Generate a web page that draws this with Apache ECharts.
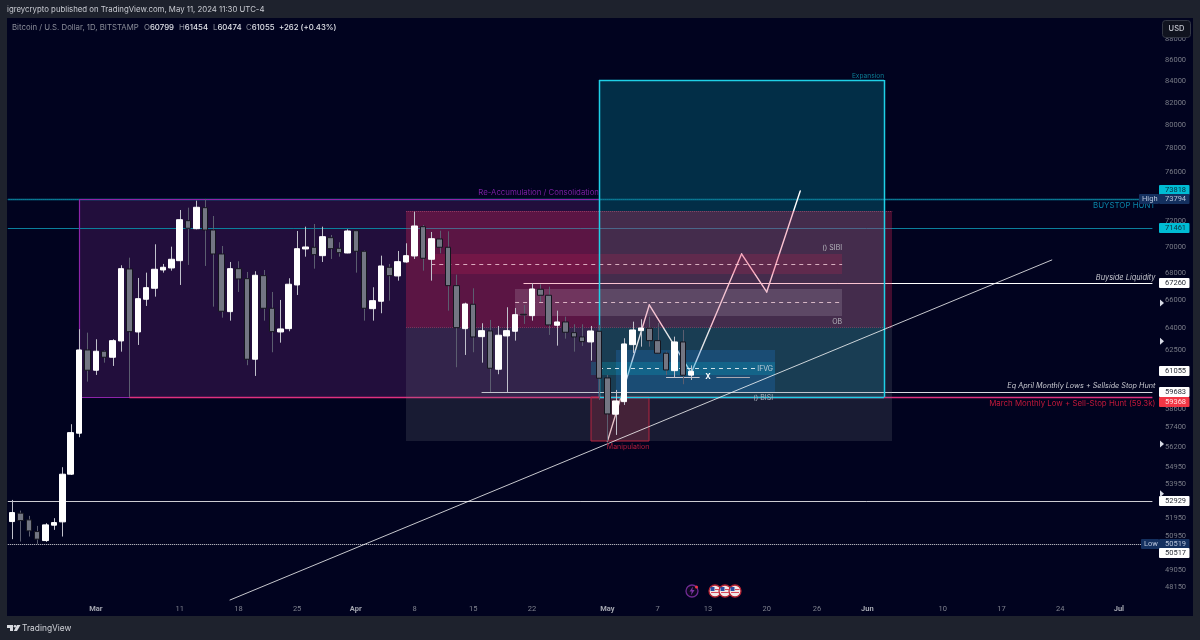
<!DOCTYPE html>
<html>
<head>
<meta charset="utf-8">
<style>html,body{margin:0;padding:0;background:#1e222d}#c{width:1200px;height:640px}</style>
<script src="https://cdn.jsdelivr.net/npm/echarts@6/dist/echarts.min.js"></script>
</head>
<body>
<div id="c"></div>
<script>
// ---------- data ----------
const firstDay = '2024-02-20';
const dayCount = 138;
// [open, close, low, high] from Feb 20 to May 11, 2024
const ohlc = [
[51759,52273,50767,53007],[52239,51815,50634,52388],[51855,51232,50913,52084],[51193,50767,50506,51515],
[50689,51571,50617,51668],[51553,51702,51288,51952],[51742,54526,50913,54947],[54526,57076,54480,57606],
[57039,62506,56789,63944],[62506,61127,60367,63707],[61127,62417,60813,63246],[62417,62007,61640,62472],
[62007,63149,61417,63246],[63128,68349,62390,68605],[68326,63776,59360,69180],[63755,66132,62851,67654],
[66088,66937,65604,68050],[66892,68304,66278,70206],[68251,68455,68050,68703],[68402,69058,68199,70021],
[68952,72130,67136,72903],[72051,71452,68628,73088],[71420,73121,71373,73653],[73088,71318,68553,73794],
[71318,69462,65553,72425],[69462,65222,64765,70075],[65194,68349,64552,68854],[68349,67580,66621,68907],
[67602,61871,61465,68102],[61871,67856,60746,68154],[67826,65438,64552,68251],[65438,63776,62349,66621],
[63755,63966,63010,66037],[63987,67188,63804,67632],[67136,69867,66402,71240],[69844,69998,69256,71578],
[69975,69409,68349,71791],[69333,70795,68854,71578],[70717,69867,69081,70928],[69898,69561,69256,70361],
[69538,71240,69515,71373],[71263,69668,68050,71300],[69668,65438,64552,69720],[65409,65986,64552,66966],
[65943,68553,65079,69333],[68455,67826,65986,68703],[67804,68877,67453,69691],[68854,69333,68801,70284],
[69310,71633,69081,72768],[71578,69135,68199,71712],[69058,70639,67453,71162],[70616,69975,69515,71263],
[69975,67085,65265,71217],[67085,64057,61330,67900],[63987,65748,62164,65842],[65726,63406,62349,66892],
[63427,63846,61640,64368],[63825,61262,59683,64601],[61194,63525,60860,64177],[63476,63846,59683,65510],
[63804,64979,63149,65459],[65005,64960,64319,65676],[64908,66841,64552,67260],[66819,66380,65893,67188],
[66380,64248,63546,67010],[64226,64460,62803,65265],[64460,63734,63288,64837],[63707,63406,62390,64297],
[63406,63080,62782,64297],[63059,63825,61776,64177],[63804,60592,59164,64248],[60612,58261,56515,60813],
[58243,59099,56932,59818],[59053,62920,58840,63316],[62872,63895,62301,64481],[63846,64036,62734,64650],
[64015,63149,62734,64837],[63149,62281,62233,64389],[62281,61147,60813,62390],[61100,63059,60633,63427],
[63059,60793,60195,63895],[60799,61055,60474,61454]
];
const priceTicks = [88000,86000,84000,82000,80000,78000,76000,72000,70000,68000,66000,64000,62500,58600,57400,56200,54950,53950,51950,50950,49050,48150];
const priceMin = 47483, priceMax = 90035;
const timeTicks = {'03-01':'Mar','03-11':'11','03-18':'18','03-25':'25','04-01':'Apr','04-08':'8','04-15':'15','04-22':'22','05-01':'May','05-07':'7','05-13':'13','05-20':'20','05-26':'26','06-01':'Jun','06-10':'10','06-17':'17','06-24':'24','07-01':'Jul'};

// [first day, top price, last day, bottom price]
const zoneAccumulation = ['02-28',73750,'04-30',59360];
const zoneExpansion = ['04-30',84102,'06-03',59360];
const zoneOrderBlock = ['04-07',72823,'06-04',64107];
const zoneLower = ['04-07',64107,'06-04',56558];
const zoneSibi = ['04-10',69462,'05-29',67953];
const zoneOb = ['04-20',66863,'05-29',64908];
const zoneBisi = ['05-02',62506,'05-21',59707];
const zoneIfvg = ['04-29',61687,'05-21',60813];
const zoneManipulation = ['04-29',59360,'05-06',56558];
// [first day or null for the pane edge, price, last day]
const levelHighBox = [null,73818,'07-05'];
const levelHigh = [null,73794,'07-05'];
const levelBuystop = [null,71461,'07-05'];
const levelBuyside = ['04-21',67260,'07-05'];
const levelEqLows = ['04-16',59683,'07-05'];
const levelMarchLow = ['03-05',59368,'07-05'];
const levelMid = [null,52929,'07-05'];
const levelLow = [null,50517,'07-05'];
const midSibi = ['04-10',68711,'05-29'];
const midOb = ['04-20',65871,'05-29'];
const midIfvg = ['04-30',61248,'05-19'];
const xLeft = ['05-08',60659,'05-12'];
const xRight = ['05-14',60659,'05-18'];
const trendLine = [['03-17',47483],['06-23',69005]];
const projection = [['05-01',56515],['05-06',65676],['05-11',60947],['05-17',69462],['05-20',66621],['05-24',74443]];
// [day, price, text]
const noteAccum = ['04-30',74279,'Re-Accumulation / Consolidation'];
const noteExpansion = ['06-03',84473,'Expansion'];
const noteBuystop = ['07-05',73266,'BUYSTOP HUNT'];
const noteBuyside = ['07-05',67654,'Buyside Liquidity'];
const noteEq = ['07-05',60063,'Eq April Monthly Lows + Sellside Stop Hunt'];
const noteMarch = ['07-05',58924,'March Monthly Low + Sell-Stop Hunt (59.3k)'];
const noteSibi = ['05-29',69920,'() SIBI'];
const noteOb = ['05-29',64481,'OB'];
const noteIfvg = ['05-21',61250,'IFVG'];
const noteBisi = ['05-21',59300,'() BISI'];
const noteManip = ['05-06',56200,'Manipulation'];
const noteX = ['05-13',60659,'X'];
// price scale badges
const badgeValues = {b73818:73818,b73794:73794,b71461:71461,b67260:67260,b61055:61055,b59683:59683,b59368:59368,b52929:52929,b50519:50519,b50517:50517};
const flagPrices = [65815,63100,56370,53360];
const legendOhlc = ['60799','61454','60474','61055'];

// ---------- helpers ----------
const dates = [];
{ const d = new Date(firstDay+'T00:00:00Z');
  for (let i=0;i<dayCount;i++){ dates.push(d.toISOString().slice(5,10)); d.setUTCDate(d.getUTCDate()+1); } }
const ix = s => s===null ? null : dates.indexOf(s);
const bg = '#01031f', chrome = '#1e222d';
const fontMain = 'Inter, Roboto, sans-serif';
const fontAxis = 'Roboto, sans-serif';

function zoneSeries(name, z, list){
  return {
    type:'custom', name, z, silent:true, coordinateSystem:'cartesian2d', clip:false,
    data:list.map(e=>[ix(e.zone[0]),e.zone[1],ix(e.zone[2]),e.zone[3]]),
    encode:{x:0,y:1},
    renderItem(p,api){
      const s = list[p.dataIndex];
      const a = api.coord([api.value(0),api.value(1)]);
      const b = api.coord([api.value(2),api.value(3)]);
      return {type:'rect',shape:{x:Math.round(a[0]),y:Math.round(a[1]),width:Math.round(b[0])-Math.round(a[0]),height:Math.round(b[1])-Math.round(a[1])},
        style:{fill:s.fill,stroke:s.stroke||null,lineWidth:s.lw||0}};
    }
  };
}
function lineSeries(name, z, list){
  return {
    type:'custom', name, z, silent:true, coordinateSystem:'cartesian2d', clip:false,
    data:list.map(e=>[e.level[0]===null?0:ix(e.level[0]),e.level[1],ix(e.level[2])]),
    encode:{x:0,y:1},
    renderItem(p,api){
      const s = list[p.dataIndex];
      const a = api.coord([api.value(0),api.value(1)]);
      const b = api.coord([api.value(2),api.value(1)]);
      const x0 = s.level[0]===null ? p.coordSys.x : a[0];
      const y = Math.round(a[1])+0.5;
      return {type:'line',shape:{x1:x0,y1:y,x2:b[0],y2:y},
        style:{stroke:s.color,lineWidth:s.lw||1,lineDash:s.dash||null}};
    }
  };
}
function polySeries(name, z, points, color, lw){
  return {
    type:'custom', name, z, silent:true, coordinateSystem:'cartesian2d', clip:false,
    data:points.map(e=>[ix(e[0]),e[1]]), encode:{x:0,y:1},
    renderItem(p,api){
      if (p.dataIndex+1 >= points.length) return null;
      const a = api.coord([api.value(0),api.value(1)]);
      const n = points[p.dataIndex+1];
      const b = api.coord([ix(n[0]),n[1]]);
      return {type:'line',shape:{x1:a[0],y1:a[1],x2:b[0],y2:b[1]},style:{stroke:color,lineWidth:lw,lineCap:'round'}};
    }
  };
}
function noteSeries(list){
  return {
    type:'custom', name:'notes', z:8, silent:true, coordinateSystem:'cartesian2d', clip:false,
    data:list.map(e=>[ix(e.note[0]),e.note[1]]), encode:{x:0,y:1},
    renderItem(p,api){
      const s = list[p.dataIndex];
      const a = api.coord([api.value(0),api.value(1)]);
      return {type:'text',x:a[0]+(s.dx||0),y:a[1],style:{text:s.note[2],fill:s.color,font:(s.italic?'italic ':'')+(s.weight||'')+' '+s.size+'px '+fontMain,textAlign:s.align||'right',textVerticalAlign:'middle'}};
    }
  };
}
function badgeSeries(list){
  return {
    type:'custom', name:'badges', z:9, silent:true, coordinateSystem:'cartesian2d', clip:false,
    data:list.map(e=>[81,e.price]), encode:{y:1},
    renderItem(p,api){
      const s = list[p.dataIndex];
      const yv = api.coord([0,api.value(1)])[1]+(s.dy||0);
      const cy = Math.round(yv);
      const kids = [
        {type:'rect',shape:{x:1159,y:cy-5,width:30.5,height:10,r:1},style:{fill:s.fill}},
        {type:'text',x:1165,y:cy,style:{text:String(s.price),fill:s.text,font:'7.5px '+fontAxis,textVerticalAlign:'middle'}}
      ];
      if (s.pill){
        kids.push({type:'rect',shape:{x:s.pillX,y:cy-5,width:1159-s.pillX,height:10,r:1},style:{fill:s.fill}});
        kids.push({type:'text',x:s.pillX+3,y:cy,style:{text:s.pill,fill:s.text,font:'7.5px '+fontAxis,textVerticalAlign:'middle'}});
      }
      return {type:'group',children:kids};
    }
  };
}
const white='#ffffff', cyan='#00bcd4', navy='#14305f', red='#f23645';
const badges = [
  {price:badgeValues.b73818,fill:cyan,text:'#083040',dy:-9},
  {price:badgeValues.b73794,fill:navy,text:'#b8c4da',pill:'High',pillX:1139},
  {price:badgeValues.b71461,fill:cyan,text:'#083040'},
  {price:badgeValues.b67260,fill:white,text:'#2a2e39'},
  {price:badgeValues.b61055,fill:white,text:'#2a2e39'},
  {price:badgeValues.b59683,fill:white,text:'#2a2e39',dy:0},
  {price:badgeValues.b59368,fill:red,text:'#ffe0e0',dy:5},
  {price:badgeValues.b52929,fill:white,text:'#2a2e39'},
  {price:badgeValues.b50519,fill:navy,text:'#b8c4da',pill:'Low',pillX:1141},
  {price:badgeValues.b50517,fill:white,text:'#2a2e39',dy:9.5}
];
const tealLine='#0b7f9c';
const purpleEdge='#8e24aa';
const cyanEdge='#1fd0e6';
const candleBodies = ohlc.map(r=>[r[0],r[1],Math.min(r[0],r[1]),Math.max(r[0],r[1])]);

const legendItems = [
  [144,'O',legendOhlc[0]],[179,'H',legendOhlc[1]],[213,'L',legendOhlc[2]],[246,'C',legendOhlc[3]]
];

const option = {
  animation:false,
  backgroundColor:chrome,
  grid:{left:7.8,top:18,width:1157.2,height:582,containLabel:false},
  xAxis:{type:'category',data:dates,boundaryGap:true,
    axisLine:{show:false},axisTick:{show:false},splitLine:{show:false},
    axisLabel:{color:'#7f828d',fontSize:7.5,fontFamily:fontAxis,margin:5,hideOverlap:false,
      interval:(i,v)=>timeTicks[v]!==undefined,
      formatter:v=>{const t=timeTicks[v]; if(!t) return ''; return /^[A-Z]/.test(t)?'{m|'+t+'}':t;},
      rich:{m:{color:'#a3a6af',fontSize:7.5,fontWeight:'bold',fontFamily:fontAxis}}}},
  yAxis:{type:'log',logBase:10,position:'right',min:priceMin,max:priceMax,
    axisLine:{show:false},axisTick:{show:false},splitLine:{show:false},
    axisLabel:{customValues:priceTicks,color:'#787b86',fontSize:7.5,fontFamily:fontAxis,margin:0,align:'left',formatter:v=>String(Math.round(v))}},
  series:[
    zoneSeries('base zones',1,[
      {zone:zoneAccumulation,fill:'rgba(170,60,180,0.2)',stroke:null},
      {zone:zoneExpansion,fill:'rgba(10,205,220,0.215)',stroke:null}]),
    lineSeries('levels',2,[
      {level:levelHighBox,color:tealLine,lw:1.5},
      {level:levelHigh,color:'#0a6a84',dash:[1,1]},
      {level:levelBuystop,color:tealLine},
      {level:[zoneAccumulation[0],zoneAccumulation[1],zoneAccumulation[2]],color:purpleEdge,lw:1.2},
      {level:[zoneAccumulation[0],zoneAccumulation[3],zoneAccumulation[2]],color:purpleEdge,lw:1.2},
      {level:levelBuyside,color:'#ffffff'},
      {level:levelMarchLow,color:'#e0307f',lw:1.5},
      {level:levelEqLows,color:'#d8d8e0'},
      {level:levelMid,color:'rgba(255,255,255,0.8)'},
      {level:levelLow,color:'rgba(255,255,255,0.85)',dash:[1,1]}]),
    polySeries('projection',2,projection,'#ffffff',1.4),
    zoneSeries('upper zones',3,[
      {zone:zoneOrderBlock,fill:'rgba(240,40,90,0.28)'},
      {zone:zoneLower,fill:'rgba(120,123,134,0.2)'},
      {zone:zoneSibi,fill:'rgba(240,40,90,0.16)'},
      {zone:zoneOb,fill:'rgba(210,200,215,0.18)'},
      {zone:zoneBisi,fill:'rgba(33,130,235,0.22)'},
      {zone:zoneIfvg,fill:'rgba(0,188,212,0.22)'},
      {zone:zoneManipulation,fill:'rgba(244,67,80,0.2)',stroke:'#b5243f',lw:1}]),
    lineSeries('zone edges',3,[
      {level:[zoneOrderBlock[0],zoneOrderBlock[1],zoneOrderBlock[2]],color:'rgba(255,130,160,0.35)',dash:[1,1]},
      {level:[zoneOrderBlock[0],zoneOrderBlock[3],zoneOrderBlock[2]],color:'rgba(255,60,110,0.45)',dash:[1,1]},
      {level:midSibi,color:'rgba(255,220,230,0.75)',dash:[4,4]},
      {level:midOb,color:'rgba(255,220,230,0.75)',dash:[4,4]},
      {level:midIfvg,color:'rgba(255,255,255,0.8)',dash:[4,4]},
      {level:xLeft,color:'#c8c8d0'},
      {level:xRight,color:'#a8a8b0'}]),
    {type:'custom',name:'vertical edges',z:3,silent:true,coordinateSystem:'cartesian2d',clip:false,
     data:[[ix(zoneAccumulation[0]),zoneAccumulation[1],zoneAccumulation[3],0],
           [ix(zoneExpansion[0]),zoneExpansion[1],zoneExpansion[3],1],
           [ix(zoneExpansion[2]),zoneExpansion[1],zoneExpansion[3],1]],
     encode:{x:0,y:1},
     renderItem(p,api){
       const a=api.coord([api.value(0),api.value(1)]),b=api.coord([api.value(0),api.value(2)]);
       const c=api.value(3);
       return {type:'line',shape:{x1:Math.round(a[0])+.5,y1:a[1],x2:Math.round(a[0])+.5,y2:b[1]},style:{stroke:c?cyanEdge:purpleEdge,lineWidth:c?1.5:1.2}};
     }},
    {type:'custom',name:'expansion edges',z:3,silent:true,coordinateSystem:'cartesian2d',clip:false,
     data:[[ix(zoneExpansion[0]),zoneExpansion[1],ix(zoneExpansion[2])],[ix(zoneExpansion[0]),zoneExpansion[3],ix(zoneExpansion[2])]],
     encode:{x:0,y:1},
     renderItem(p,api){
       const a=api.coord([api.value(0),api.value(1)]),b=api.coord([api.value(2),api.value(1)]);
       const y=Math.round(a[1])+.5;
       return {type:'line',shape:{x1:a[0],y1:y,x2:b[0],y2:y},style:{stroke:cyanEdge,lineWidth:1.5}};
     }},
    {type:'custom',name:'wicks',z:4,silent:true,coordinateSystem:'cartesian2d',clip:false,
     data:ohlc.map((r,i)=>[i,r[2],r[3],r[1]>=r[0]?1:0]),encode:{x:0,y:1},
     renderItem(p,api){
       const a=api.coord([api.value(0),api.value(1)]),b=api.coord([api.value(0),api.value(2)]);
       const x=Math.round(a[0])+.5;
       return {type:'line',shape:{x1:x,y1:a[1],x2:x,y2:b[1]},style:{stroke:api.value(3)?'#c0c1cb':'#5c5e70',lineWidth:1}};
     }},
    {type:'candlestick',name:'BTCUSD',z:5,silent:true,data:candleBodies,barWidth:6,
     itemStyle:{color:'#ffffff',color0:'#737683',borderColor:'#ffffff',borderColor0:'#15151f',borderColorDoji:'#c8c8d0',borderWidth:1}},
    polySeries('trend',6,trendLine,'rgba(255,255,255,0.78)',1),
    noteSeries([
      {note:noteAccum,color:'#7b1fa2',size:7.8},
      {note:noteExpansion,color:'#0d7f96',size:6.6},
      {note:noteBuystop,color:'#0a85a8',size:7.9,dx:3},
      {note:noteBuyside,color:'#c8c9d0',size:7.4,italic:true,dx:3},
      {note:noteEq,color:'#c8c9d0',size:7.25,italic:true,dx:3},
      {note:noteMarch,color:'#c2193a',size:7.9,dx:3},
      {note:noteSibi,color:'#b5b5bb',size:7},
      {note:noteOb,color:'#b5b5bb',size:7},
      {note:noteIfvg,color:'#c0cdd8',size:7,dx:-2},
      {note:noteBisi,color:'#a9b0bb',size:7,dx:-2},
      {note:noteManip,color:'#b71c3c',size:7},
      {note:noteX,color:'#ffffff',size:7.5,weight:'bold',align:'center'}
    ]),
    badgeSeries(badges),
    {type:'custom',name:'flags',z:9,silent:true,coordinateSystem:'cartesian2d',clip:false,
     data:flagPrices.map(v=>[0,v]),encode:{y:1},
     renderItem(p,api){
       const y=api.coord([0,api.value(1)])[1];
       return {type:'polygon',shape:{points:[[1160,y-3.5],[1164,y],[1160,y+3.5]]},style:{fill:'#d8dbe6'}};
     }}
  ],
  graphic:[
    {type:'rect',z:-1,silent:true,shape:{x:7,y:18,width:1186,height:598},style:{fill:bg}},
    {type:'text',z:100,silent:true,x:7,y:6,style:{text:'igreycrypto published on TradingView.com, May 11, 2024 11:30 UTC-4',fill:'#c9cbd2',font:'7.8px '+fontMain}},
    {type:'text',z:100,silent:true,x:12,y:24,style:{text:'Bitcoin / U.S. Dollar, 1D, BITSTAMP',fill:'#8a8d98',font:'7.8px '+fontMain}},
    ...legendItems.map(it=>({type:'text',z:100,silent:true,x:it[0],y:24,style:{
      text:'{g|'+it[1]+'}{w|'+it[2]+'}',rich:{g:{fill:'#8a8d98',font:'7.8px '+fontMain},w:{fill:'#e0e2e8',font:'500 7.8px '+fontMain}}}})),
    {type:'text',z:100,silent:true,x:279,y:24,style:{text:'+262 (+0.43%)',fill:'#e0e2e8',font:'500 7.8px '+fontMain}},
    {type:'rect',z:100,silent:true,shape:{x:1162.5,y:20.5,width:28,height:17,r:3},style:{fill:'#10131f',stroke:'#343845',lineWidth:1}},
    {type:'text',z:101,silent:true,x:1176.5,y:29,style:{text:'USD',fill:'#c4c6ce',font:'500 7.5px '+fontMain,textAlign:'center',textVerticalAlign:'middle'}},
    {type:'circle',z:100,silent:true,shape:{cx:692,cy:591,r:6},style:{fill:'#0d0820',stroke:'#6f2a92',lineWidth:1.3}},
    {type:'polygon',z:101,silent:true,shape:{points:[[693,586.5],[689.5,591.5],[691.8,591.5],[690.8,595.5],[694.6,590],[692.3,590]]},style:{fill:'#7d35a5'}},
    {type:'circle',z:102,silent:true,shape:{cx:696.5,cy:587,r:1.5},style:{fill:'#f23645'}},
    ...[715,725,735].flatMap(cx=>[
      {type:'circle',z:100,silent:true,shape:{cx,cy:591,r:6},style:{fill:'#f0e8e8',stroke:'#b52232',lineWidth:1.3}},
      {type:'rect',z:101,silent:true,shape:{x:cx-4.5,y:587,width:4,height:4},style:{fill:'#2b4a9e'}},
      {type:'rect',z:101,silent:true,shape:{x:cx-4,y:592,width:8,height:1},style:{fill:'#d8485a'}},
      {type:'rect',z:101,silent:true,shape:{x:cx,y:589,width:4.5,height:1},style:{fill:'#d8485a'}}
    ]),
    {type:'polygon',z:100,silent:true,shape:{points:[[7,625],[13,625],[13,631],[10,631],[10,628],[7,628]]},style:{fill:'#d8dae0'}},
    {type:'circle',z:100,silent:true,shape:{cx:15,cy:626.3,r:1.3},style:{fill:'#d8dae0'}},
    {type:'polygon',z:100,silent:true,shape:{points:[[17,625],[20.5,625],[17,631],[13.8,631]]},style:{fill:'#d8dae0'}},
    {type:'text',z:100,silent:true,x:22,y:628.5,style:{text:'TradingView',fill:'#cfd1d7',font:'8.4px '+fontMain,textVerticalAlign:'middle'}}
  ]
};
const chart = echarts.init(document.getElementById('c'),null,{renderer:'canvas'});
chart.setOption(option);
</script>
</body>
</html>
